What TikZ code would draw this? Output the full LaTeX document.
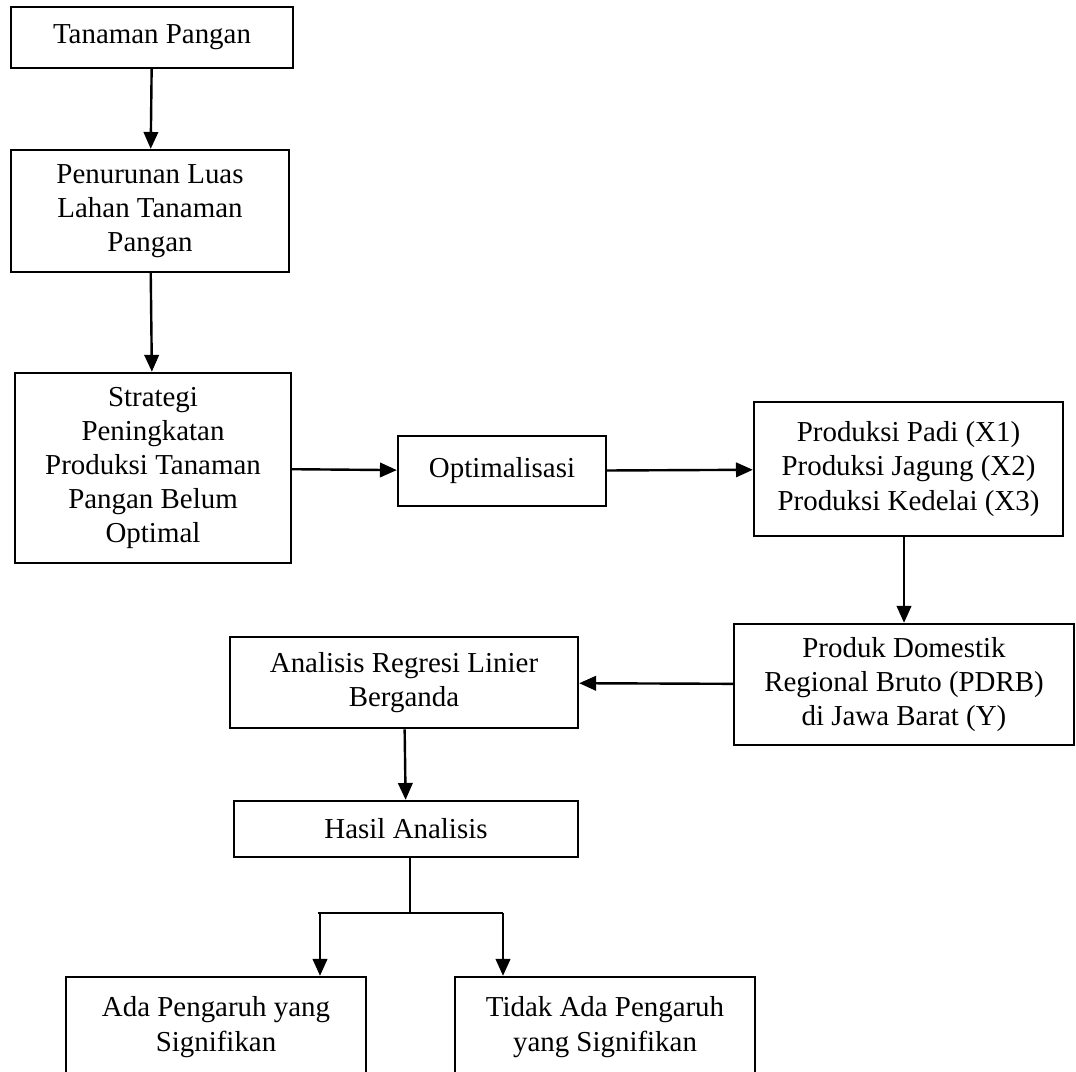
\documentclass[tikz,border=0pt]{standalone}
\usepackage{fontspec}
\setmainfont{Liberation Serif}
\usetikzlibrary{arrows.meta}

\begin{document}
\begin{tikzpicture}[x=0.415pt,y=-0.415pt,
	box/.style={draw,line width=1pt,inner sep=0pt,align=center,
		font=\fontsize{12}{14.2}\selectfont},
	arr/.style={line width=1pt,-{Triangle[length=7pt,width=6pt]}}]
	\clip (0,0) rectangle (1076,1071);
	% left column
	\node[box,minimum width=117pt,minimum height=25.3pt] (tp) at (152,37.5) {Tanaman Pangan};
	\node[box,minimum width=115.4pt,minimum height=50.6pt] (pl) at (150,211) {Penurunan Luas\\Lahan Tanaman\\Pangan};
	\node[box,minimum width=114.5pt,minimum height=78.9pt] (sp) at (153,468) {Strategi\\Peningkatan\\Produksi Tanaman\\Pangan Belum\\Optimal};
	\node[box,minimum width=86.3pt,minimum height=29.1pt] (opt) at (502,471) {Optimalisasi};
	% right column
	\node[box,minimum width=128.2pt,minimum height=55.6pt] (prod) at (908.5,469) {Produksi Padi (X1)\\Produksi Jagung (X2)\\Produksi Kedelai (X3)};
	\node[box,minimum width=141.1pt,minimum height=50.2pt] (pdrb) at (904,684.5) {Produk Domestik\\Regional Bruto (PDRB)\\di Jawa Barat (Y)};
	\node[box,minimum width=144.4pt,minimum height=37.8pt] (arb) at (404,682.5) {Analisis Regresi Linier\\Berganda};
	\node[box,minimum width=142.8pt,minimum height=23.2pt] (hasil) at (406,829) {Hasil Analisis};
	% results
	\node[box,minimum width=124.5pt,minimum height=41.5pt] (ada) at (216,1027) {Ada Pengaruh yang\\Signifikan};
	\node[box,minimum width=124.5pt,minimum height=41.5pt] (tidak) at (605,1027) {Tidak Ada Pengaruh\\yang Signifikan};
	\coordinate (split) at (410,913);
	\coordinate (sl) at (320,913);
	\coordinate (sr) at (503,913);

	\draw[arr] (tp) -- (pl);
	\draw[arr] (pl) -- (sp);
	\draw[arr] (sp) -- (opt);
	\draw[arr] (opt) -- (prod);
	\draw[arr] (prod.south -| pdrb.north) -- (pdrb.north);
	\draw[arr] (pdrb) -- (arb);
	\draw[arr] (arb) -- (hasil);
	\draw[line width=0.7pt] (hasil.south -| split) -- (split);
	\draw[line width=1.1pt] (sl) ++(-2,0) -- (sr);
	\draw[arr] (sl) -- (sl |- ada.north);
	\draw[arr] (sr) -- (sr |- tidak.north);
\end{tikzpicture}
\end{document}
